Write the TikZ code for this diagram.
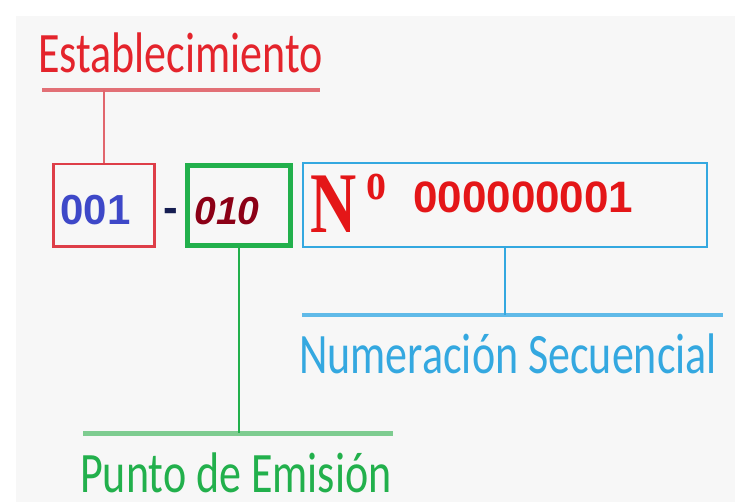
\documentclass[tikz,border=0pt]{standalone}
\usepackage{fontspec}
\usepackage{graphicx}
\usepackage{xcolor}
\newfontfamily\labelfont{Carlito}
\newfontfamily\digitfont{Liberation Sans}
\newfontfamily\signfont{Liberation Serif}
\newcommand{\tallText}[1]{\scalebox{1}[1.3]{#1}}
\definecolor{paper}{HTML}{F7F7F7}
\definecolor{estabred}{RGB}{228,36,44}
\definecolor{establine}{RGB}{226,112,118}
\definecolor{boxred}{RGB}{222,62,72}
\definecolor{numblue}{RGB}{62,72,200}
\definecolor{numdark}{RGB}{140,0,22}
\definecolor{dashnavy}{RGB}{22,30,82}
\definecolor{emigreen}{RGB}{34,176,76}
\definecolor{emiline}{RGB}{126,204,144}
\definecolor{seqblue}{RGB}{52,168,224}
\definecolor{seqline}{RGB}{96,186,232}
\definecolor{signred}{RGB}{228,22,24}

\begin{document}
\begin{tikzpicture}
	[x=1pt,y=-1pt,
	lbl/.style = {
		anchor=base west, inner sep=0pt, text depth=0pt,
		font=\labelfont\fontsize{44}{48}\selectfont
	},
	box/.style = {
		draw, rectangle, align=left, text height=39pt, text depth=0pt
	},
	wire/.style = {
		line width=2.5
	},
	bar/.style = {
		line width=4
	}]
	
	%Draw background
	\useasboundingbox (0,0) rectangle (735,502);
	\fill[white] (0,0) rectangle (735,502);
	\fill[paper] (16,16) rectangle (735,502);
	
	%Draw nodes
	\node[lbl, text=estabred] at (38,73) (estab) {\tallText{Establecimiento}};
	\coordinate (estabL) at (42,90);
	\coordinate (estabR) at (320,90);
	
	\node[box, draw=boxred, line width=2.5, text=numblue,
		font=\digitfont\bfseries\fontsize{42}{42}\selectfont,
		text width=87pt, inner xsep=7pt, minimum height=82.5pt]
		at (104,205.5) (b001) {001};
	\node[anchor=base, text=dashnavy, inner sep=0pt,
		font=\digitfont\bfseries\fontsize{44}{44}\selectfont]
		at (171,223) (dash) {-};
	\node[box, draw=emigreen, line width=5, text=numdark,
		font=\digitfont\bfseries\itshape\fontsize{39}{39}\selectfont,
		text width=89pt, inner xsep=7pt, minimum height=80pt]
		at (239,205.5) (b010) {010};
	\node[box, draw=seqblue, line width=2, minimum width=404pt,
		minimum height=84pt] at (505,205) (bseq) {};
	\node[anchor=base west, inner sep=0pt, text=signred,
		font=\signfont\bfseries] at (310,233) (sign)
		{\scalebox{1}[1.35]{\fontsize{64}{64}\selectfont N\kern10pt\raisebox{24.5pt}{\fontsize{40}{40}\selectfont o}}};
	\node[anchor=base west, inner sep=0pt, text=signred,
		font=\digitfont\bfseries\fontsize{44}{44}\selectfont]
		at (413,213) (seqnum) {000000001};
	
	\coordinate (seqL) at (302,315);
	\coordinate (seqR) at (723,315);
	\node[lbl, text=seqblue] at (299,373) (seq) {\tallText{Numeración Secuencial}};
	
	\coordinate (emiL) at (83,433);
	\coordinate (emiR) at (393,433);
	\node[lbl, text=emigreen] at (80,492) (emi) {\tallText{Punto de Emisión}};
	
	%Draw wires
	\draw[bar, establine, line width=3.5] (estabL) -- (estabR);
	\draw[wire, establine!80!boxred] (b001.north) -- (b001.north |- estabL);
	\draw[bar, seqline] (seqL) -- (seqR);
	\draw[wire, seqblue] (bseq.south) -- (bseq.south |- seqL);
	\draw[bar, emiline, line width=5] (emiL) -- (emiR);
	\draw[wire, emigreen] (b010.south) -- (b010.south |- emiL);
\end{tikzpicture}
\end{document}
